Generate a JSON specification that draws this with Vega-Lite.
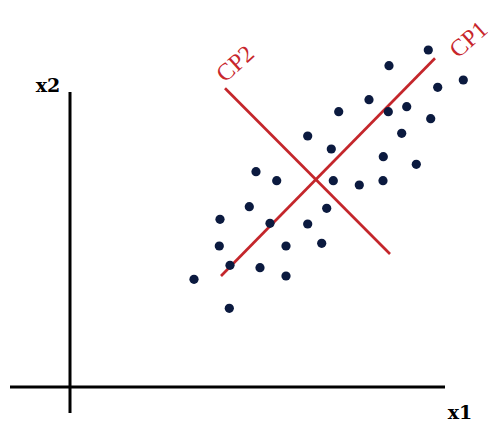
{
  "$schema": "https://vega.github.io/schema/vega-lite/v6.json",
  "width": 488,
  "height": 425,
  "autosize": {"type": "none"},
  "padding": 0,
  "background": "white",
  "config": {"view": {"stroke": null}},
  "datasets": {
    "points": [
      {"x1": 35.83, "x2": 33.7}, {"x1": 31.9, "x2": 32.13}, {"x1": 39.33, "x2": 30.7},
      {"x1": 36.77, "x2": 29.97}, {"x1": 29.9, "x2": 28.73}, {"x1": 26.87, "x2": 27.53},
      {"x1": 31.83, "x2": 27.53}, {"x1": 33.67, "x2": 28.03}, {"x1": 36.07, "x2": 26.83},
      {"x1": 33.17, "x2": 25.37}, {"x1": 23.77, "x2": 25.1}, {"x1": 26.13, "x2": 23.8},
      {"x1": 31.33, "x2": 23.03}, {"x1": 34.63, "x2": 22.27}, {"x1": 18.6, "x2": 21.53},
      {"x1": 20.67, "x2": 20.63}, {"x1": 26.33, "x2": 20.63}, {"x1": 28.93, "x2": 20.2},
      {"x1": 31.3, "x2": 20.63}, {"x1": 17.93, "x2": 18.03}, {"x1": 25.67, "x2": 17.87},
      {"x1": 15.0, "x2": 16.77}, {"x1": 20.0, "x2": 16.37}, {"x1": 23.77, "x2": 16.3},
      {"x1": 14.93, "x2": 14.1}, {"x1": 21.6, "x2": 14.1}, {"x1": 25.17, "x2": 14.37},
      {"x1": 16.0, "x2": 12.17}, {"x1": 19.0, "x2": 11.93}, {"x1": 21.6, "x2": 11.1},
      {"x1": 12.4, "x2": 10.77}, {"x1": 15.93, "x2": 7.87}
    ],
    "components": [
      {"component": "CP1", "x1": 15.1, "x2": 11.1},
      {"component": "CP1", "x1": 36.5, "x2": 32.87},
      {"component": "CP2", "x1": 15.5, "x2": 29.87},
      {"component": "CP2", "x1": 32.0, "x2": 13.3}
    ],
    "componentLabels": [
      {"label": "CP1", "x1": 39.9, "x2": 34.7},
      {"label": "CP2", "x1": 16.57, "x2": 32.27}
    ],
    "axesLines": [
      {"axis": "x1", "from1": -6.0, "to1": 37.5, "from2": 0, "to2": 0},
      {"axis": "x2", "from1": 0, "to1": 0, "from2": -2.6, "to2": 29.5}
    ],
    "axisTitles": [
      {"label": "x1", "x1": 39.0, "x2": -2.6},
      {"label": "x2", "x1": -2.2, "x2": 30.1}
    ]
  },
  "layer": [
    {
      "data": {"name": "axesLines"},
      "mark": {"type": "rule", "color": "black", "strokeWidth": 3},
      "encoding": {
        "x": {"field": "from1", "type": "quantitative", "scale": {"domain": [-7, 41.8], "nice": false, "zero": false}, "axis": null},
        "x2": {"field": "to1"},
        "y": {"field": "from2", "type": "quantitative", "scale": {"domain": [-3.8, 38.7], "nice": false, "zero": false}, "axis": null},
        "y2": {"field": "to2"}
      }
    },
    {
      "data": {"name": "components"},
      "mark": {"type": "line", "color": "#c4262b", "strokeWidth": 2.7},
      "encoding": {
        "x": {"field": "x1", "type": "quantitative"},
        "y": {"field": "x2", "type": "quantitative"},
        "detail": {"field": "component"}
      }
    },
    {
      "data": {"name": "points"},
      "mark": {"type": "circle", "color": "#0b1a3f", "opacity": 1, "size": 85},
      "encoding": {
        "x": {"field": "x1", "type": "quantitative"},
        "y": {"field": "x2", "type": "quantitative"}
      }
    },
    {
      "data": {"name": "componentLabels"},
      "mark": {"type": "text", "color": "#c8262b", "font": "Liberation Serif", "fontSize": 24, "angle": 318, "align": "center", "baseline": "middle"},
      "encoding": {
        "x": {"field": "x1", "type": "quantitative"},
        "y": {"field": "x2", "type": "quantitative"},
        "text": {"field": "label"}
      }
    },
    {
      "data": {"name": "axisTitles"},
      "mark": {"type": "text", "color": "black", "font": "DejaVu Serif", "fontSize": 19, "fontWeight": "bold", "align": "center", "baseline": "middle"},
      "encoding": {
        "x": {"field": "x1", "type": "quantitative"},
        "y": {"field": "x2", "type": "quantitative"},
        "text": {"field": "label"}
      }
    }
  ]
}
